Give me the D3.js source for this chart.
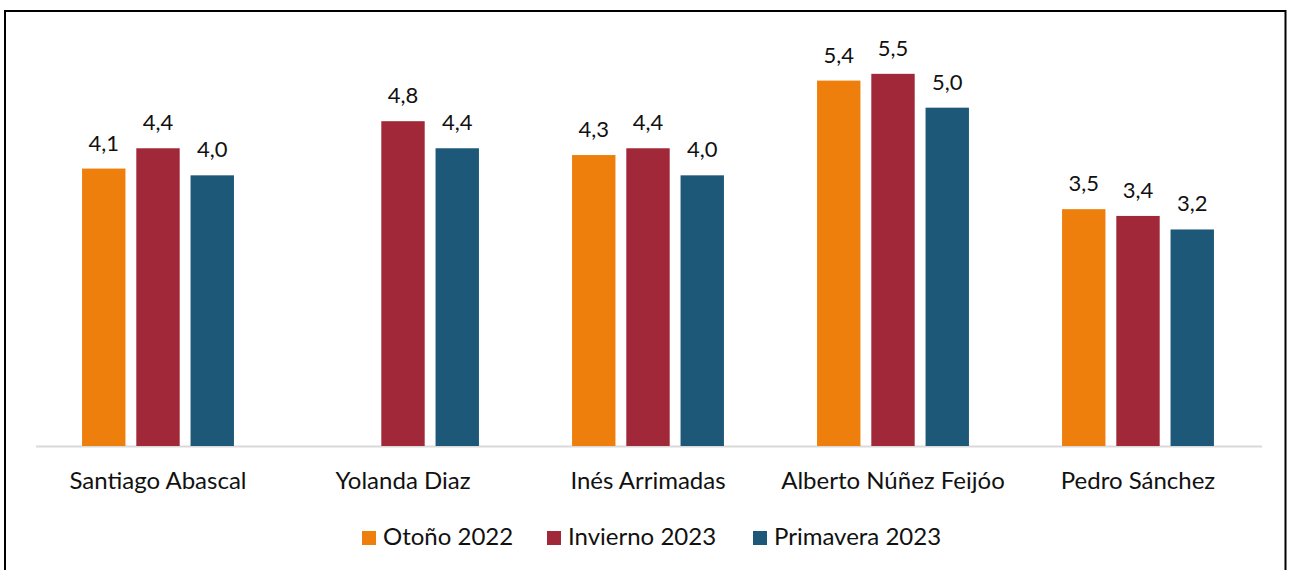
<html>
<head>
    <meta charset="utf-8">
    <title>Valoración de líderes</title>
    <style>
        body{
            margin: 0;
            background: #fff;
        }
        svg text{
            font-family: Lato, "Open Sans", sans-serif;
            fill: #111;
        }
    </style>
</head>
<body>
<script src="https://d3js.org/d3.v7.min.js"></script>
<svg></svg>
<script>

    // data
    var leaders = ["Santiago Abascal", "Yolanda Diaz", "Inés Arrimadas", "Alberto Núñez Feijóo", "Pedro Sánchez"];
    var seasons = ["Otoño 2022", "Invierno 2023", "Primavera 2023"];
    var otono2022 = [4.1, null, 4.3, 5.4, 3.5];
    var invierno2023 = [4.4, 4.8, 4.4, 5.5, 3.4];
    var primavera2023 = [4.0, 4.4, 4.0, 5.0, 3.2];
    var colors = ["#EF7F0C", "#A12838", "#1E5879"];

    let width = 1291;
    let height = 570;

    let svg = d3.select("svg")
        .attr("width", width)
        .attr("height", height);

    // frame
    svg.append("path")
        .attr("d", "M5,570 V11 H1285.5 V570")
        .attr("fill", "none")
        .attr("stroke", "#000")
        .attr("stroke-width", 2);

    var rows = leaders.map(function(name, i){
        return {name: name, values: [otono2022[i], invierno2023[i], primavera2023[i]]};
    });

    var x0 = d3.scaleBand()
        .domain(leaders)
        .range([35.5, 1260.5])
        .paddingInner(0.38)
        .paddingOuter(0.19);

    var x1 = d3.scaleBand()
        .domain(seasons)
        .range([0, x0.bandwidth()])
        .paddingInner(0.2);

    var y = d3.scaleLinear()
        .domain([0, 6])
        .range([446, 40]);

    var fmt = function(v){ return d3.format(".1f")(v).replace(".", ","); };

    // baseline axis
    var xAxis = svg.append("g")
        .attr("transform", "translate(0," + y(0) + ")")
        .call(d3.axisBottom(x0).tickSize(0).tickPadding(0));
    xAxis.select(".domain")
        .attr("d", "M36,0.5H1262")
        .attr("stroke", "#d9d9d9")
        .attr("stroke-width", 2);
    xAxis.selectAll("text")
        .attr("y", 43)
        .attr("dy", null)
        .style("font-size", "24px")
        .style("font-family", "Lato, sans-serif")
        .attr("fill", "#111");

    var groups = svg.selectAll(".grp")
        .data(rows)
        .enter().append("g")
        .attr("class", "grp")
        .attr("transform", function(d){ return "translate(" + x0(d.name) + ",0)"; });

    var cells = groups.selectAll(".bar")
        .data(function(d){
            return d.values.map(function(v, j){ return {s: seasons[j], v: v, c: colors[j]}; })
                .filter(function(e){ return e.v != null; });
        })
        .enter();

    cells.append("rect")
        .attr("class", "bar")
        .attr("x", function(d){ return x1(d.s); })
        .attr("width", x1.bandwidth())
        .attr("y", function(d){ return y(d.v); })
        .attr("height", function(d){ return y(0) - y(d.v); })
        .style("fill", function(d){ return d.c; });

    cells.append("text")
        .attr("x", function(d){ return x1(d.s) + x1.bandwidth() / 2; })
        .attr("y", function(d){ return y(d.v) - 18; })
        .attr("text-anchor", "middle")
        .style("font-size", "22px")
        .text(function(d){ return fmt(d.v); });

    // legend
    var legendX = [362, 547, 753];
    var legend = svg.selectAll(".leg")
        .data(seasons)
        .enter().append("g")
        .attr("class", "leg")
        .attr("transform", function(d, i){ return "translate(" + legendX[i] + ",531)"; });

    legend.append("rect")
        .attr("width", 14)
        .attr("height", 14)
        .style("fill", function(d, i){ return colors[i]; });

    legend.append("text")
        .attr("x", 21)
        .attr("y", 14)
        .style("font-size", "24px")
        .text(function(d){ return d; });

</script>
</body>
</html>
